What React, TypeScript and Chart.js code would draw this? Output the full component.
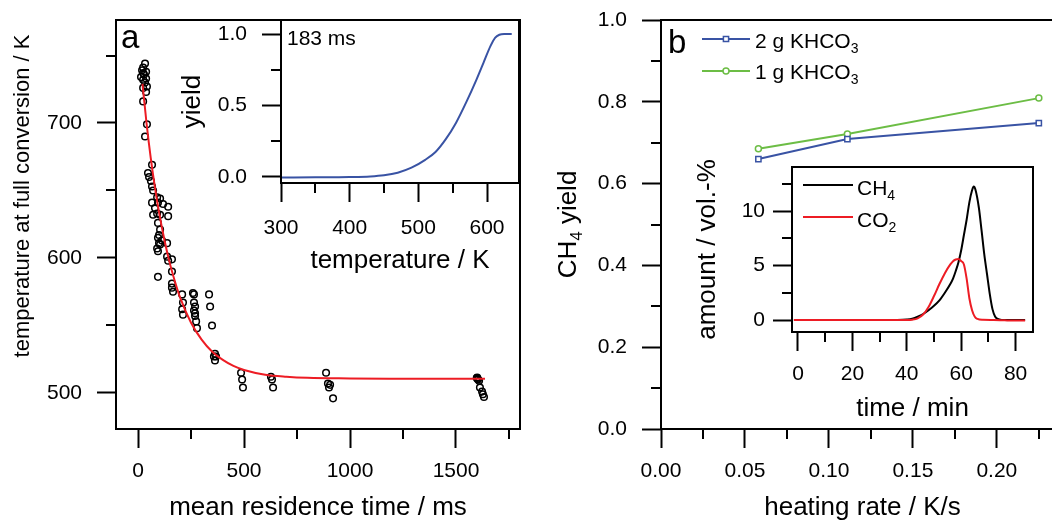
import React, { useEffect, useRef } from "react";
import { Chart, registerables } from "chart.js";

Chart.register(...registerables);

const FONT = "'Liberation Sans', Arial, Helvetica, sans-serif";
Chart.defaults.font.family = FONT;
Chart.defaults.color = "#000";

// ---------------- data ----------------
// panel a: temperature at full conversion vs mean residence time
const residenceTimeMs = [
  33, 24, 19, 38, 24, 28, 14, 38, 24, 33, 42, 24, 38, 24, 42, 33, 66, 47, 52, 61,
  66, 71, 90, 104, 66, 94, 118, 142, 80, 90, 104, 142, 71, 94, 104, 99, 113, 104, 137, 94,
  99, 90, 94, 137, 142, 160, 94, 160, 160, 160, 165, 208, 212, 208, 212, 259, 264, 264, 269, 264,
  269, 269, 274, 278, 335, 340, 349, 363, 368, 363, 358, 486, 491, 495, 627, 632, 637, 887, 896, 901,
  906, 920, 1598, 1600, 1602, 1604, 1609, 1613, 1623, 1627, 1632,
];
const tempFullConversionK = [
  744, 741, 739, 738, 737, 736, 734, 733, 732, 730, 727, 726, 723, 716, 699, 690, 669, 663, 660, 657,
  653, 650, 645, 644, 641, 641, 640, 638, 637, 633, 632, 631, 632, 626, 621, 617, 613, 610, 611, 615,
  611, 607, 605, 601, 598, 599, 586, 590, 581, 578, 575, 573, 567, 562, 558, 574, 573, 567, 564, 561,
  559, 557, 553, 548, 573, 564, 550, 529, 527, 524, 527, 515, 510, 504, 512, 510, 504, 515, 507, 504,
  506, 496, 511, 511.5, 510.5, 510, 509, 504, 501, 499, 497,
];
// red fit curve
const fitTimeMs = [21, 40, 60, 80, 100, 125, 150, 175, 200, 250, 300, 350, 400, 450, 500, 600, 700, 800, 1000, 1200, 1400, 1637];
const fitTempK = [729, 700, 674, 652, 633, 613, 596, 582, 570, 552, 539.5, 530.5, 524.5, 520, 517, 513.5, 512, 511.2, 510.8, 510.6, 510.5, 510.5];

// inset a: yield vs temperature (183 ms)
const insetTempK = [300, 350, 400, 430, 450, 470, 490, 510, 525, 540, 555, 570, 585, 595, 605, 612, 618, 625, 636];
const insetYield = [-0.003, -0.002, 0.0, 0.004, 0.012, 0.03, 0.065, 0.12, 0.175, 0.265, 0.38, 0.525, 0.685, 0.8, 0.915, 0.975, 0.995, 1.0, 1.0];

// panel b: CH4 yield vs heating rate
const heatingRateKs = [0.058, 0.111, 0.225];
const yield2gKHCO3 = [0.66, 0.709, 0.748];
const yield1gKHCO3 = [0.685, 0.721, 0.809];

// inset b: amount vs time
const ch4TimeMin = [-1.5, 10, 20, 30, 36, 40, 42, 44, 46, 48, 50, 52, 54, 56, 57, 58, 59, 60, 61, 62, 63, 64, 64.6, 65.2, 66.5, 67.5, 68.5, 69.5, 70.5, 71.5, 72.5, 74, 76, 80, 83.5];
const ch4Amount = [0, 0, 0, 0, 0.01, 0.05, 0.12, 0.3, 0.55, 0.9, 1.3, 1.8, 2.5, 3.3, 3.8, 4.5, 5.3, 6.4, 7.8, 9.2, 10.8, 11.9, 12.25, 12.0, 10.3, 8.2, 6.0, 4.2, 2.4, 1.0, 0.3, 0.05, 0, 0, 0];
const co2TimeMin = [-1.5, 10, 20, 30, 40, 42, 44, 46, 48, 50, 52, 54, 56, 57, 58, 59, 60, 61, 62, 63, 64, 65, 66, 68, 72, 76, 80, 83.5];
const co2Amount = [0, 0, 0, 0, 0, 0.03, 0.15, 0.5, 1.2, 2.2, 3.3, 4.3, 5.1, 5.4, 5.55, 5.6, 5.4, 5.1, 3.8, 2.0, 0.9, 0.3, 0.1, 0.02, 0, -0.03, -0.05, -0.05];

// ticks
const aXTicks = [0, 500, 1000, 1500];
const aXMinor = [250, 750, 1250, 1750];
const aYTicks = [500, 600, 700];
const aYMinor = [550, 650, 750];
const aiXTicks = [300, 400, 500, 600];
const aiXMinor = [350, 450, 550];
const aiYTicks = [0, 0.5, 1.0];
const aiYMinor = [0.25, 0.75];
const bXTicks = [0, 0.05, 0.1, 0.15, 0.2];
const bXMinor = [0.025, 0.075, 0.125, 0.175, 0.225];
const bYTicks = [0, 0.2, 0.4, 0.6, 0.8, 1.0];
const bYMinor = [0.1, 0.3, 0.5, 0.7, 0.9];
const biXTicks = [0, 20, 40, 60, 80];
const biXMinor = [10, 30, 50, 70];
const biYTicks = [0, 5, 10];
const biYMinor = [2.5, 7.5, 12.5];

const BLUE = "#3953a4";
const GREEN = "#6cbd45";
const RED = "#ed1c24";

// ---------------- helpers ----------------
const zip = (xs: number[], ys: number[]) => xs.map((x, i) => ({ x, y: ys[i] }));

type Seg = { t: string; sub?: boolean };
type TextItem = { segs: Seg[]; x: number; y: number; size: number; rotated?: boolean };
type LegendItem = { x1: number; x2: number; y: number; color: string; marker?: "rect" | "circle"; text: TextItem };

function drawRich(ctx: CanvasRenderingContext2D, item: TextItem) {
  const { segs, size } = item;
  const subSize = Math.round(size * 0.66);
  ctx.save();
  ctx.fillStyle = "#000";
  ctx.textBaseline = "alphabetic";
  ctx.textAlign = "left";
  const widths = segs.map((s) => {
    ctx.font = `${s.sub ? subSize : size}px ${FONT}`;
    return ctx.measureText(s.t).width;
  });
  const total = widths.reduce((a, b) => a + b, 0);
  ctx.translate(item.x, item.y);
  let cx = 0;
  let base = 0;
  if (item.rotated) {
    ctx.rotate(-Math.PI / 2);
    cx = -total / 2;
    base = size * 0.35;
  }
  segs.forEach((s, i) => {
    ctx.font = `${s.sub ? subSize : size}px ${FONT}`;
    ctx.fillText(s.t, cx, base + (s.sub ? size * 0.24 : 0));
    cx += widths[i];
  });
  ctx.restore();
}

function deco(cfg: { minorX: number[]; minorY: number[]; texts?: TextItem[]; legend?: LegendItem[] }) {
  return {
    id: "deco",
    afterDraw(chart: any) {
      const { ctx, chartArea: ca, scales } = chart;
      const len = 10;
      ctx.save();
      ctx.strokeStyle = "#000";
      ctx.lineWidth = 2;
      ctx.beginPath();
      for (const v of cfg.minorX) {
        const p = Math.round(scales.x.getPixelForValue(v));
        if (p < ca.left - 0.5 || p > ca.right + 0.5) continue;
        ctx.moveTo(p, ca.bottom);
        ctx.lineTo(p, ca.bottom + len);
      }
      for (const v of cfg.minorY) {
        const p = Math.round(scales.y.getPixelForValue(v));
        if (p < ca.top - 0.5 || p > ca.bottom + 0.5) continue;
        ctx.moveTo(ca.left - len, p);
        ctx.lineTo(ca.left, p);
      }
      ctx.stroke();
      ctx.strokeRect(ca.left, ca.top, ca.right - ca.left, ca.bottom - ca.top);
      for (const l of cfg.legend || []) {
        ctx.strokeStyle = l.color;
        ctx.lineWidth = 2;
        ctx.beginPath();
        ctx.moveTo(l.x1, l.y);
        ctx.lineTo(l.x2, l.y);
        ctx.stroke();
        const mx = (l.x1 + l.x2) / 2;
        if (l.marker) {
          ctx.lineWidth = 1.5;
          ctx.fillStyle = "#fff";
          ctx.beginPath();
          if (l.marker === "rect") ctx.rect(mx - 2.6, l.y - 2.6, 5.2, 5.2);
          else ctx.arc(mx, l.y, 3, 0, Math.PI * 2);
          ctx.fill();
          ctx.stroke();
        }
        drawRich(ctx, l.text);
      }
      for (const t of cfg.texts || []) drawRich(ctx, t);
      ctx.restore();
    },
  };
}

function axisCfg(o: { min: number; max: number; ticks: number[]; fmt: (v: number) => string; box: number; pad: number; title?: string }) {
  return {
    type: "linear" as const,
    min: o.min,
    max: o.max,
    afterBuildTicks: (s: any) => {
      s.ticks = o.ticks.map((v) => ({ value: v }));
    },
    afterFit: (s: any) => {
      if (s.isHorizontal()) s.height = o.box;
      else s.width = o.box;
      s.paddingTop = 0;
      s.paddingBottom = 0;
      s.paddingLeft = 0;
      s.paddingRight = 0;
    },
    grid: { drawOnChartArea: false, drawTicks: true, tickLength: 19, tickWidth: 2, tickColor: "#000" },
    border: { display: false },
    ticks: {
      padding: o.pad,
      font: { size: 21 },
      color: "#000",
      autoSkip: false,
      maxRotation: 0,
      minRotation: 0,
      callback: (v: any) => o.fmt(Number(v)),
    },
    title: o.title
      ? { display: true, text: o.title, color: "#000", font: { size: 26, lineHeight: 1 }, padding: 0 }
      : { display: false },
  };
}

const base = (padding: { left: number; top: number; right: number; bottom: number }) => ({
  responsive: false,
  animation: false as const,
  events: [] as any[],
  layout: { padding, autoPadding: false },
  plugins: { legend: { display: false }, tooltip: { enabled: false }, title: { display: false } },
});

const CANVAS_W = 1080;
const CANVAS_H = 521;

function makeConfigs(): any[] {
  const mainA = {
    type: "scatter",
    data: {
      datasets: [
        {
          type: "line",
          data: zip(fitTimeMs, fitTempK),
          borderColor: RED,
          borderWidth: 2,
          pointRadius: 0,
          cubicInterpolationMode: "monotone",
          order: 0,
        },
        {
          type: "scatter",
          data: zip(residenceTimeMs, tempFullConversionK),
          pointStyle: "circle",
          pointRadius: 3.3,
          pointBorderWidth: 1.5,
          borderColor: "#000",
          pointBorderColor: "#000",
          backgroundColor: "rgba(0,0,0,0)",
          pointBackgroundColor: "rgba(0,0,0,0)",
          showLine: false,
          order: 1,
        },
      ],
    },
    options: {
      ...base({ left: 0, top: 20, right: CANVAS_W - 520, bottom: 0 }),
      scales: {
        x: axisCfg({ min: -104, max: 1802, ticks: aXTicks, fmt: (v) => String(v), box: 92, pad: 11, title: "mean residence time / ms" }),
        y: axisCfg({ min: 473.3, max: 776.3, ticks: aYTicks, fmt: (v) => String(v), box: 116, pad: 15 }),
      },
    },
    plugins: [
      deco({
        minorX: aXMinor,
        minorY: aYMinor,
        texts: [
          { segs: [{ t: "a" }], x: 121, y: 48, size: 33 },
          { segs: [{ t: "temperature at full conversion / K" }], x: 21, y: 196, size: 22, rotated: true },
        ],
      }),
    ],
  };

  const insetA = {
    type: "scatter",
    data: {
      datasets: [
        {
          type: "line",
          data: zip(insetTempK, insetYield),
          borderColor: BLUE,
          borderWidth: 2,
          pointRadius: 0,
          cubicInterpolationMode: "monotone",
        },
      ],
    },
    options: {
      ...base({ left: 180, top: 20, right: CANVAS_W - 519, bottom: 247 }),
      scales: {
        x: axisCfg({ min: 300, max: 646.6, ticks: aiXTicks, fmt: (v) => String(v), box: 91, pad: 14, title: "temperature / K" }),
        y: axisCfg({ min: -0.042, max: 1.098, ticks: aiYTicks, fmt: (v) => v.toFixed(1), box: 101, pad: 15, title: "yield" }),
      },
    },
    plugins: [
      deco({
        minorX: aiXMinor,
        minorY: aiYMinor,
        texts: [{ segs: [{ t: "183 ms" }], x: 287, y: 44.5, size: 21 }],
      }),
    ],
  };

  const mainB = {
    type: "scatter",
    data: {
      datasets: [
        {
          type: "line",
          data: zip(heatingRateKs, yield2gKHCO3),
          borderColor: BLUE,
          borderWidth: 2,
          pointStyle: "rect",
          pointRadius: 3.7,
          pointBorderWidth: 1.5,
          pointBorderColor: BLUE,
          pointBackgroundColor: "#fff",
        },
        {
          type: "line",
          data: zip(heatingRateKs, yield1gKHCO3),
          borderColor: GREEN,
          borderWidth: 2,
          pointStyle: "circle",
          pointRadius: 3,
          pointBorderWidth: 1.5,
          pointBorderColor: GREEN,
          pointBackgroundColor: "#fff",
        },
      ],
    },
    options: {
      ...base({ left: 561, top: 20, right: CANVAS_W - 1064, bottom: 0 }),
      scales: {
        x: axisCfg({ min: 0, max: 0.24, ticks: bXTicks, fmt: (v) => v.toFixed(2), box: 92, pad: 11, title: "heating rate / K/s" }),
        y: axisCfg({ min: 0, max: 1, ticks: bYTicks, fmt: (v) => v.toFixed(1), box: 100, pad: 15 }),
      },
    },
    plugins: [
      deco({
        minorX: bXMinor,
        minorY: bYMinor,
        texts: [
          { segs: [{ t: "b" }], x: 668, y: 53, size: 33 },
          { segs: [{ t: "CH" }, { t: "4", sub: true }, { t: " yield" }], x: 567, y: 224.5, size: 26, rotated: true },
        ],
        legend: [
          {
            x1: 702, x2: 750, y: 39, color: BLUE, marker: "rect",
            text: { segs: [{ t: "2 g KHCO" }, { t: "3", sub: true }], x: 755, y: 48, size: 21 },
          },
          {
            x1: 702, x2: 750, y: 71, color: GREEN, marker: "circle",
            text: { segs: [{ t: "1 g KHCO" }, { t: "3", sub: true }], x: 755, y: 78.5, size: 21 },
          },
        ],
      }),
    ],
  };

  const insetB = {
    type: "scatter",
    data: {
      datasets: [
        {
          type: "line",
          data: zip(ch4TimeMin, ch4Amount),
          borderColor: "#000",
          borderWidth: 2,
          pointRadius: 0,
          cubicInterpolationMode: "monotone",
          order: 1,
        },
        {
          type: "line",
          data: zip(co2TimeMin, co2Amount),
          borderColor: RED,
          borderWidth: 2,
          pointRadius: 0,
          cubicInterpolationMode: "monotone",
          order: 0,
        },
      ],
    },
    options: {
      ...base({ left: 695, top: 167, right: CANVAS_W - 1033, bottom: 99 }),
      scales: {
        x: axisCfg({ min: -2.2, max: 86.4, ticks: biXTicks, fmt: (v) => String(v), box: 90, pad: 11, title: "time / min" }),
        y: axisCfg({ min: -1.1, max: 14.04, ticks: biYTicks, fmt: (v) => String(v), box: 97, pad: 8, title: "amount / vol.-%" }),
      },
    },
    plugins: [
      deco({
        minorX: biXMinor,
        minorY: biYMinor,
        legend: [
          { x1: 803, x2: 853, y: 185, color: "#000", text: { segs: [{ t: "CH" }, { t: "4", sub: true }], x: 857, y: 195, size: 21 } },
          { x1: 803, x2: 853, y: 217, color: RED, text: { segs: [{ t: "CO" }, { t: "2", sub: true }], x: 857, y: 227, size: 21 } },
        ],
      }),
    ],
  };

  return [mainA, insetA, mainB, insetB];
}

export default function App() {
  const r0 = useRef<HTMLCanvasElement>(null);
  const r1 = useRef<HTMLCanvasElement>(null);
  const r2 = useRef<HTMLCanvasElement>(null);
  const r3 = useRef<HTMLCanvasElement>(null);
  const refs = [r0, r1, r2, r3];

  useEffect(() => {
    const cfgs = makeConfigs();
    const charts = refs.map((r, i) => new Chart(r.current as HTMLCanvasElement, cfgs[i]));
    return () => charts.forEach((c) => c.destroy());
    // eslint-disable-next-line react-hooks/exhaustive-deps
  }, []);

  return (
    <div
      style={{
        position: "fixed",
        left: 0,
        top: 0,
        width: 1052,
        height: 521,
        overflow: "hidden",
        background: "#fff",
      }}
    >
      {refs.map((r, i) => (
        <canvas
          key={i}
          ref={r}
          width={CANVAS_W}
          height={CANVAS_H}
          style={{ position: "absolute", left: 0, top: 0, width: CANVAS_W, height: CANVAS_H }}
        />
      ))}
    </div>
  );
}
